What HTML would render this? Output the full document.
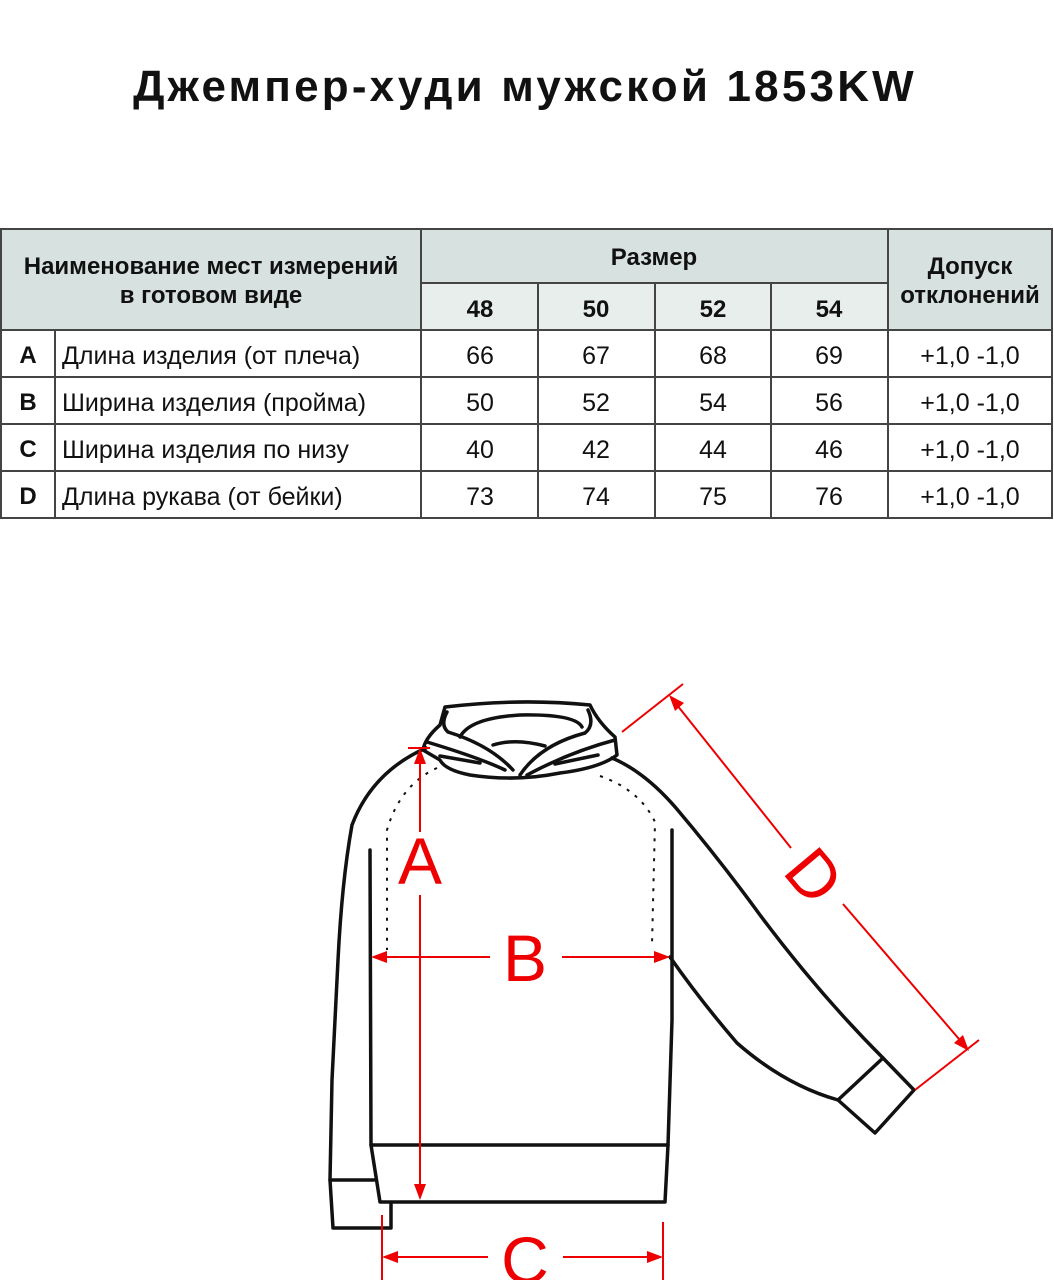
<!DOCTYPE html>
<html><head><meta charset="utf-8"><style>
html,body{margin:0;padding:0;background:#fff;}
svg{display:block;}
text{font-family:"Liberation Sans",sans-serif;}
</style></head><body>
<svg width="1054" height="1280" viewBox="0 0 1054 1280" xmlns="http://www.w3.org/2000/svg">
<text x="525" y="101" text-anchor="middle" font-size="44" font-weight="bold" letter-spacing="3.2" fill="#111">Джемпер-худи мужской 1853KW</text>
<!-- table -->
<rect x="1" y="229" width="420" height="101" fill="#d7e1df"/>
<rect x="421" y="229" width="467" height="54" fill="#d7e1df"/>
<rect x="421" y="283" width="467" height="47" fill="#e7eeec"/>
<rect x="888" y="229" width="164" height="101" fill="#d7e1df"/>
<g stroke="#444" stroke-width="2" fill="none">
<rect x="1" y="229" width="1051" height="289"/>
<line x1="421" y1="229" x2="421" y2="518"/>
<line x1="888" y1="229" x2="888" y2="518"/>
<line x1="421" y1="283" x2="888" y2="283"/>
<line x1="538" y1="283" x2="538" y2="518"/>
<line x1="655" y1="283" x2="655" y2="518"/>
<line x1="771" y1="283" x2="771" y2="518"/>
<line x1="1" y1="330" x2="1052" y2="330"/>
<line x1="1" y1="377" x2="1052" y2="377"/>
<line x1="1" y1="424" x2="1052" y2="424"/>
<line x1="1" y1="471" x2="1052" y2="471"/>
<line x1="55" y1="330" x2="55" y2="518"/>
</g>
<g font-size="24" font-weight="bold" fill="#111" text-anchor="middle">
<text x="211" y="274">Наименование мест измерений</text>
<text x="211" y="303">в готовом виде</text>
<text x="654" y="265">Размер</text>
<text x="970" y="274">Допуск</text>
<text x="970" y="303">отклонений</text>
<text x="480" y="317">48</text><text x="596" y="317">50</text><text x="713" y="317">52</text><text x="829" y="317">54</text>
<text x="28" y="363">A</text><text x="28" y="410">B</text><text x="28" y="457">C</text><text x="28" y="504">D</text>
</g>
<g font-size="25" fill="#111">
<text x="62" y="364">Длина изделия (от плеча)</text>
<text x="62" y="411">Ширина изделия (пройма)</text>
<text x="62" y="458">Ширина изделия по низу</text>
<text x="62" y="505">Длина рукава (от бейки)</text>
</g>
<g font-size="25" fill="#111" text-anchor="middle">
<text x="480" y="364">66</text><text x="596" y="364">67</text><text x="713" y="364">68</text><text x="829" y="364">69</text><text x="970" y="364">+1,0 -1,0</text>
<text x="480" y="411">50</text><text x="596" y="411">52</text><text x="713" y="411">54</text><text x="829" y="411">56</text><text x="970" y="411">+1,0 -1,0</text>
<text x="480" y="458">40</text><text x="596" y="458">42</text><text x="713" y="458">44</text><text x="829" y="458">46</text><text x="970" y="458">+1,0 -1,0</text>
<text x="480" y="505">73</text><text x="596" y="505">74</text><text x="713" y="505">75</text><text x="829" y="505">76</text><text x="970" y="505">+1,0 -1,0</text>
</g>
<!-- garment -->
<g stroke="#111" stroke-width="3.5" fill="none" stroke-linejoin="round" stroke-linecap="round">
<path d="M445,707 Q520,698 590,705 Q598,722 615,737 L617,755 Q600,768 560,773 Q515,782 470,775 Q445,770 440,760 L423,750 Q425,738 440,725 Z"/>
<path d="M447,712 Q440,725 448,732 Q490,745 513,770"/>
<path d="M588,710 Q595,725 585,733 Q540,745 520,775"/>
<path d="M460,737 Q470,718 520,715 Q575,714 582,727"/>
<path d="M493,745 Q515,738 545,746"/>
<path d="M427,742 Q480,758 505,770"/>
<path d="M615,740 Q570,752 527,775"/>
<path d="M440,756 L480,763 M555,764 L598,755"/>
<path d="M426,748 Q372,772 352,825 Q342,880 338,960 L332,1080 L330,1180 L333,1228 L391,1228 L391,1204"/>
<path d="M330,1180 L374,1180"/>
<path d="M370,850 L371,1145 L380,1202 L665,1202 L668,1145 L672,1020 L672,830"/>
<path d="M371,1145 L668,1145"/>
<path d="M612,758 Q645,772 676,808 Q720,860 760,915 Q820,995 883,1058"/>
<path d="M670,957 Q700,1000 737,1043 Q785,1085 838,1100"/>
<path d="M838,1100 L883,1058 L914,1090 L875,1133 Z"/>
</g>
<g stroke="#111" stroke-width="2" fill="none" stroke-dasharray="3,7">
<path d="M437,768 Q400,785 387,830 L387,950"/>
<path d="M600,776 Q640,790 655,822 L652,945"/>
</g>
<g stroke="#e00" stroke-width="2" fill="none">
<line x1="420" y1="752" x2="420" y2="832"/>
<line x1="420" y1="895" x2="420" y2="1195"/>
<line x1="408" y1="748" x2="430" y2="748"/>
<line x1="377" y1="957" x2="490" y2="957"/>
<line x1="562" y1="957" x2="664" y2="957"/>
<line x1="386" y1="1257" x2="488" y2="1257"/>
<line x1="563" y1="1257" x2="660" y2="1257"/>
<line x1="382" y1="1215" x2="382" y2="1280"/>
<line x1="663" y1="1222" x2="663" y2="1280"/>
<line x1="673" y1="700" x2="791" y2="848"/>
<line x1="843" y1="904" x2="965" y2="1046"/>
<line x1="622" y1="732" x2="683" y2="684"/>
<line x1="915" y1="1090" x2="979" y2="1040"/>
</g>
<g fill="#e00">
<path d="M420,748 L414,764 L426,764 Z"/>
<path d="M420,1200 L414,1184 L426,1184 Z"/>
<path d="M371,957 L387,951 L387,963 Z"/>
<path d="M670,957 L654,951 L654,963 Z"/>
<path d="M382,1257 L398,1251 L398,1263 Z"/>
<path d="M663,1257 L647,1251 L647,1263 Z"/>
<path d="M669,695 L675,711 L684,703 Z"/>
<path d="M969,1051 L963,1035 L954,1043 Z"/>
</g>
<g fill="#e00" font-size="66" text-anchor="middle">
<text x="420" y="884">A</text>
<text x="525" y="981">B</text>
<text x="525" y="1283">C</text>
<text x="815" y="899" transform="rotate(50 815 875)">D</text>
</g>
</svg>
</body></html>
